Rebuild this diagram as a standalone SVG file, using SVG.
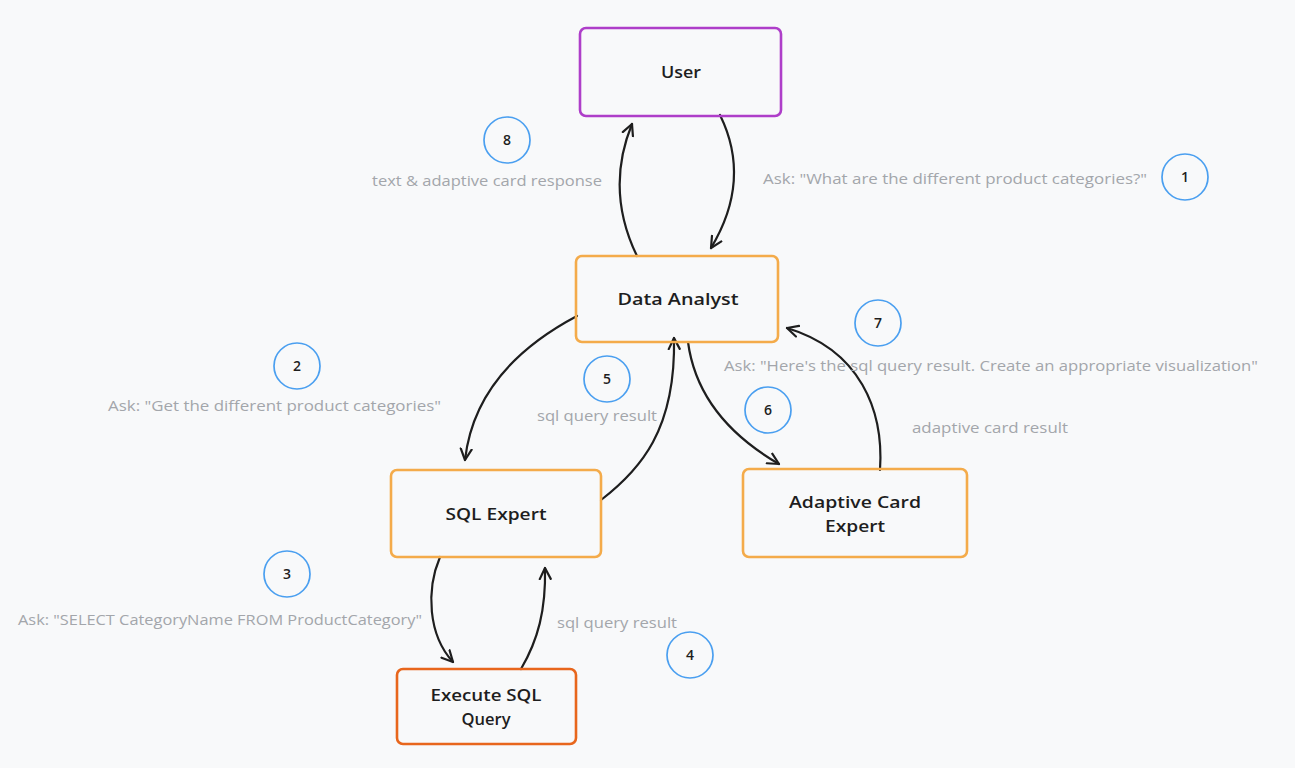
<svg xmlns="http://www.w3.org/2000/svg" width="1295" height="768" viewBox="0 0 1295 768">
<defs>
<style>
.box{fill:none;stroke-width:2.6}
.orange{stroke:#f4ab4a}
.purple{stroke:#ae3ec9}
.red{stroke:#e8661c}
.nt{font-family:"Open Sans","Liberation Sans",sans-serif;font-size:17px;font-weight:600;fill:#1e1e1e;text-anchor:middle}
.lbl{font-family:"Open Sans","Liberation Sans",sans-serif;font-size:14.5px;fill:#a3a6ab}
.circ{fill:none;stroke:#4a9ff0;stroke-width:1.7}
.num{font-family:"Open Sans","Liberation Sans",sans-serif;font-size:14px;font-weight:600;fill:#1e1e1e;text-anchor:middle}
.conn{fill:none;stroke:#1e1e1e;stroke-width:2.2;stroke-linecap:round;marker-end:url(#arr)}
</style>
<marker id="arr" viewBox="0 0 14 14" refX="12" refY="7" markerWidth="14" markerHeight="14" markerUnits="userSpaceOnUse" orient="auto">
<path d="M1,1.5 L12,7 L1,12.5" fill="none" stroke="#1e1e1e" stroke-width="2.2" stroke-linecap="round" stroke-linejoin="round"/>
</marker>
</defs>
<rect width="1295" height="768" fill="#f8f9fa"/>

<g id="connectors">
<path class="conn" d="M637,256 Q605,190 632,124"/>
<path class="conn" d="M720,115 Q752,180 711,248"/>
<path class="conn" d="M577,316 Q475,370 465,460"/>
<path class="conn" d="M601,500 C640,470 676,430 674,338"/>
<path class="conn" d="M688,342 Q698,417 779,464"/>
<path class="conn" d="M880,470 C884,410 860,350 787,328"/>
<path class="conn" d="M440,557 C426,590 428,635 453,662"/>
<path class="conn" d="M521,669 C538,640 546,610 545,568"/>
</g>

<g id="user">
<rect class="box purple" x="580" y="28" width="201" height="88" rx="6"/>
<text class="nt" x="681" y="78" textLength="40" lengthAdjust="spacingAndGlyphs">User</text>
</g>
<g id="data-analyst">
<rect class="box orange" x="576" y="256" width="202" height="86" rx="6"/>
<text class="nt" x="678" y="305" textLength="121" lengthAdjust="spacingAndGlyphs">Data Analyst</text>
</g>
<g id="sql-expert">
<rect class="box orange" x="391" y="470" width="210" height="87" rx="6"/>
<text class="nt" x="496" y="520" textLength="101" lengthAdjust="spacingAndGlyphs">SQL Expert</text>
</g>
<g id="adaptive-card-expert">
<rect class="box orange" x="743" y="469" width="224" height="88" rx="6"/>
<text class="nt" x="855" y="508" textLength="132" lengthAdjust="spacingAndGlyphs">Adaptive Card</text>
<text class="nt" x="855" y="532" textLength="60" lengthAdjust="spacingAndGlyphs">Expert</text>
</g>
<g id="execute-sql-query">
<rect class="box red" x="397" y="669" width="179" height="75" rx="6"/>
<text class="nt" x="486" y="701" textLength="111" lengthAdjust="spacingAndGlyphs">Execute SQL</text>
<text class="nt" x="486" y="725" textLength="49" lengthAdjust="spacingAndGlyphs">Query</text>
</g>

<g id="step-labels">
<text class="lbl" x="372" y="186" textLength="230" lengthAdjust="spacingAndGlyphs">text &amp; adaptive card response</text>
<text class="lbl" x="763" y="184" textLength="384" lengthAdjust="spacingAndGlyphs">Ask: "What are the different product categories?"</text>
<text class="lbl" x="108" y="411" textLength="333" lengthAdjust="spacingAndGlyphs">Ask: "Get the different product categories"</text>
<text class="lbl" x="537" y="421" textLength="120" lengthAdjust="spacingAndGlyphs">sql query result</text>
<text class="lbl" x="724" y="371" textLength="534" lengthAdjust="spacingAndGlyphs">Ask: "Here's the sql query result. Create an appropriate visualization"</text>
<text class="lbl" x="912" y="433" textLength="156" lengthAdjust="spacingAndGlyphs">adaptive card result</text>
<text class="lbl" x="18" y="625" textLength="404" lengthAdjust="spacingAndGlyphs">Ask: "SELECT CategoryName FROM ProductCategory"</text>
<text class="lbl" x="557" y="628" textLength="120" lengthAdjust="spacingAndGlyphs">sql query result</text>
</g>

<g id="step-numbers">
<circle class="circ" cx="507" cy="140" r="23"/><text class="num" x="507" y="145">8</text>
<circle class="circ" cx="1185" cy="177" r="23"/><text class="num" x="1185" y="182">1</text>
<circle class="circ" cx="297" cy="366" r="23"/><text class="num" x="297" y="371">2</text>
<circle class="circ" cx="607" cy="379" r="23"/><text class="num" x="607" y="384">5</text>
<circle class="circ" cx="878" cy="323" r="23"/><text class="num" x="878" y="328">7</text>
<circle class="circ" cx="768" cy="410" r="23"/><text class="num" x="768" y="415">6</text>
<circle class="circ" cx="287" cy="574" r="23"/><text class="num" x="287" y="579">3</text>
<circle class="circ" cx="690" cy="655" r="23"/><text class="num" x="690" y="660">4</text>
</g>
</svg>
